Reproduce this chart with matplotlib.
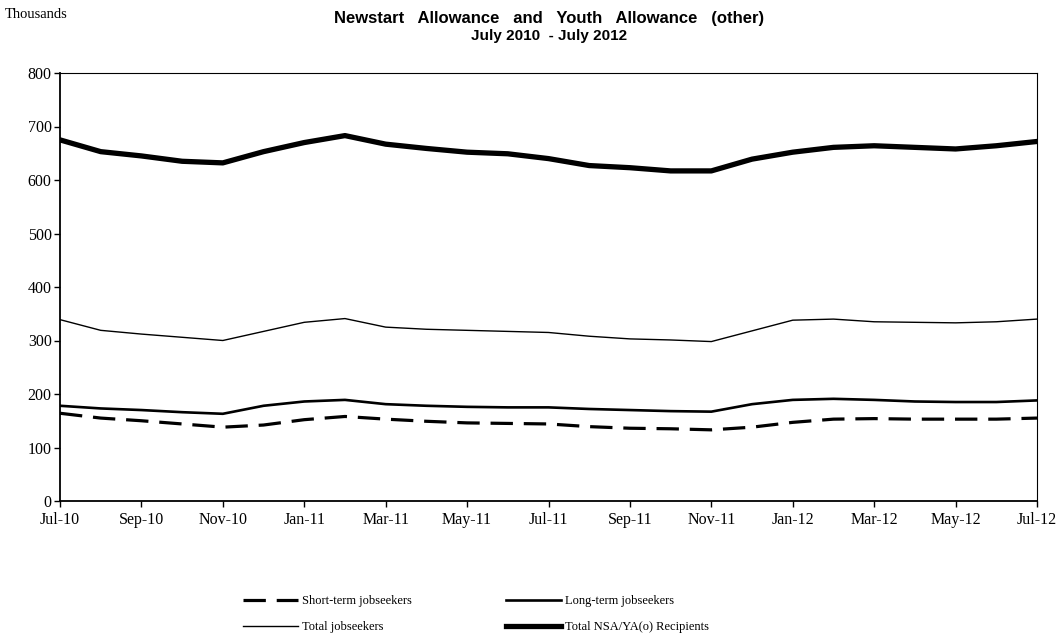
import matplotlib
matplotlib.use("Agg")
import matplotlib.pyplot as plt

months = ["Jul-10", "Aug-10", "Sep-10", "Oct-10", "Nov-10", "Dec-10",
          "Jan-11", "Feb-11", "Mar-11", "Apr-11", "May-11", "Jun-11",
          "Jul-11", "Aug-11", "Sep-11", "Oct-11", "Nov-11", "Dec-11",
          "Jan-12", "Feb-12", "Mar-12", "Apr-12", "May-12", "Jun-12", "Jul-12"]

short_term = [164, 155, 150, 144, 138, 142, 152, 158, 153, 149, 146, 145,
              144, 139, 136, 135, 133, 138, 147, 153, 154, 153, 153, 153, 155]
long_term = [178, 173, 170, 166, 163, 178, 186, 189, 181, 178, 176, 175,
             175, 172, 170, 168, 167, 181, 189, 191, 189, 186, 185, 185, 188]
total_js = [339, 319, 312, 306, 300, 317, 334, 341, 325, 321, 319, 317,
            315, 308, 303, 301, 298, 318, 338, 340, 335, 334, 333, 335, 340]
total_nsa = [675, 653, 645, 635, 632, 653, 670, 683, 667, 659, 652, 649,
             640, 627, 623, 617, 617, 639, 652, 661, 664, 661, 658, 664, 672]

tick_labels = months[::2]

serif = ["Liberation Serif", "DejaVu Serif"]
sans = ["Liberation Sans", "DejaVu Sans"]

fig = plt.figure(figsize=(10.59, 6.40), dpi=100)
ax = fig.add_axes([60 / 1059, 1 - 501 / 640, (1037 - 60) / 1059, (501 - 73) / 640])

x = list(range(len(months)))
h1, = ax.plot(x, short_term, color="black", lw=2.3, ls=(0, (7.0, 3.4)),
              label="Short-term jobseekers", solid_capstyle="butt")
h2, = ax.plot(x, long_term, color="black", lw=1.9, label="Long-term jobseekers")
h3, = ax.plot(x, total_js, color="black", lw=1.0, label="Total jobseekers")
h4, = ax.plot(x, total_nsa, color="black", lw=3.8, label="Total NSA/YA(o) Recipients")

ax.set_xlim(0, len(months) - 1)
ax.set_ylim(0, 800)
ax.set_yticks(range(0, 801, 100))
ax.set_xticks(x[::2])
ax.set_xticklabels(tick_labels)
ax.tick_params(axis="both", direction="out", length=4, width=1, labelsize=11.5,
               colors="black")
for lab in ax.get_xticklabels() + ax.get_yticklabels():
    lab.set_fontfamily(serif)
ax.tick_params(axis="x", pad=4)
ax.tick_params(axis="y", pad=2)
for side in ["top", "right"]:
    ax.spines[side].set_linewidth(0.8)
for side in ["left", "bottom"]:
    ax.spines[side].set_linewidth(1.3)

gap = " " * 3
fig.text(5 / 1059, 1 - 15 / 640, "Thousands", family=serif, fontsize=10.5,
         ha="left", va="center")
fig.text(549 / 1059, 1 - 18 / 640,
         gap.join(["Newstart", "Allowance", "and", "Youth", "Allowance", "(other)"]),
         family=sans, fontsize=12, fontweight="bold", ha="center", va="center")
fig.text(549 / 1059, 1 - 36 / 640, "July 2010  - July 2012",
         family=sans, fontsize=11, fontweight="bold", ha="center", va="center")

leg = fig.legend(handles=[h1, h3, h2, h4], ncol=2, loc="center",
                 bbox_to_anchor=(476 / 1059, 1 - 614 / 640), frameon=False,
                 prop={"family": serif, "size": 9}, handlelength=4.4,
                 handletextpad=0.3, columnspacing=7.5, labelspacing=1.1)

fig.savefig("out.png", dpi=100)
